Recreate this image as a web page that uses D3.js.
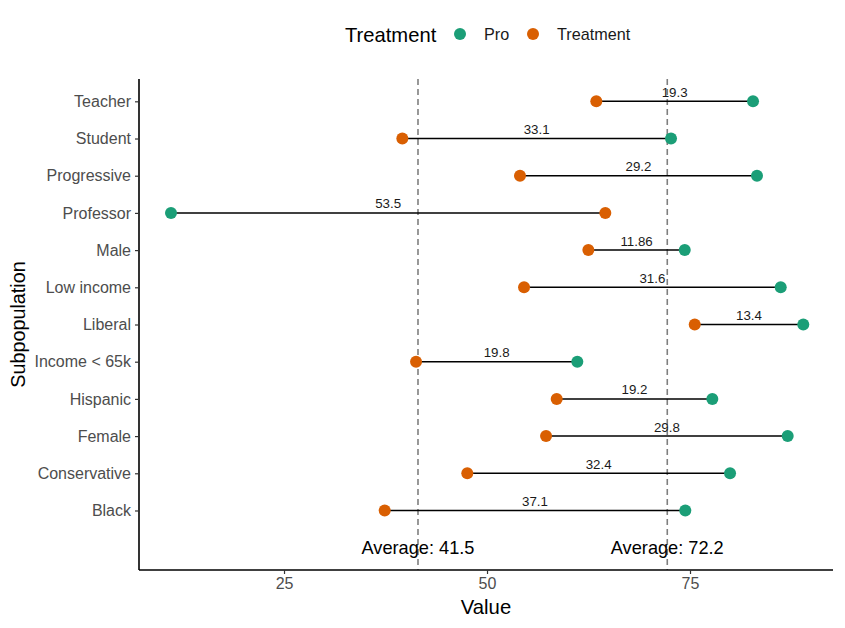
<!DOCTYPE html>
<html><head><meta charset="utf-8">
<script src="https://cdn.jsdelivr.net/npm/d3@7"></script>
<style>body{margin:0;background:#fff;font-family:"Liberation Sans",Arial,sans-serif;}</style>
</head><body><svg id="c" width="845" height="628"></svg>
<script>
const categories = ["Teacher","Student","Progressive","Professor","Male","Low income","Liberal","Income < 65k","Hispanic","Female","Conservative","Black"];
const proValues = [82.76, 72.66, 83.25, 11.08, 74.35, 86.17, 88.95, 61.12, 77.75, 87.03, 79.93, 74.42];
const treatmentValues = [63.46, 39.57, 54.06, 64.57, 62.48, 54.56, 75.58, 41.26, 58.58, 57.27, 47.57, 37.4];
const diffLabels = ["19.3","33.1","29.2","53.5","11.86","31.6","13.4","19.8","19.2","29.8","32.4","37.1"];
const averages = [41.5, 72.2];
const xTicks = [25, 50, 75];
const seriesNames = ["Pro","Treatment"];
const colors = ["#1B9E77","#D95F02"];

const svg = d3.select("#c");
const L = 139, R = 833, T = 79, B = 570;
const x = d3.scaleLinear().domain([7.14, 92.61]).range([L, R]);
const yDomain = categories.concat(["__avg"]);
const y = d3.scalePoint().domain(yDomain).range([T, B]).padding(0.6);

// average lines
svg.selectAll("line.avg").data(averages).enter().append("line")
  .attr("x1", d => x(d)).attr("x2", d => x(d)).attr("y1", T).attr("y2", B)
  .attr("stroke", "#7f7f7f").attr("stroke-width", 1.6).attr("stroke-dasharray", "6,4");

// segments
svg.selectAll("line.seg").data(categories).enter().append("line")
  .attr("x1", (d,i) => x(treatmentValues[i])).attr("x2", (d,i) => x(proValues[i]))
  .attr("y1", d => y(d)).attr("y2", d => y(d))
  .attr("stroke", "#000").attr("stroke-width", 1.5);

// diff labels
svg.selectAll("text.diff").data(categories).enter().append("text")
  .attr("x", (d,i) => (x(treatmentValues[i]) + x(proValues[i])) / 2)
  .attr("y", d => y(d) - 4.5)
  .attr("text-anchor", "middle").attr("font-size", 13.3).attr("fill", "#1a1a1a")
  .text((d,i) => diffLabels[i]);

// points
[proValues, treatmentValues].forEach((vals, s) => {
  svg.selectAll("circle.s" + s).data(categories).enter().append("circle")
    .attr("cx", (d,i) => x(vals[i])).attr("cy", d => y(d)).attr("r", 6)
    .attr("fill", colors[s]);
});

// average labels
svg.selectAll("text.avgl").data(averages).enter().append("text")
  .attr("x", d => x(d)).attr("y", y("__avg") + 6.5)
  .attr("text-anchor", "middle").attr("font-size", 18.2).attr("fill", "#000")
  .text(d => "Average: " + d.toFixed(1));

// axes
const xa = svg.append("g").attr("transform", `translate(0,${B})`)
  .call(d3.axisBottom(x).tickValues(xTicks).tickSize(4).tickPadding(4).tickSizeOuter(0));
const ya = svg.append("g").attr("transform", `translate(${L},0)`)
  .call(d3.axisLeft(y).tickValues(categories).tickSize(4).tickPadding(4).tickSizeOuter(0));
[xa, ya].forEach(g => {
  g.select(".domain").attr("stroke", "#000").attr("stroke-width", 1.6);
  g.selectAll(".tick line").attr("stroke", "#333").attr("stroke-width", 1.2);
  g.selectAll(".tick text").attr("fill", "#4d4d4d").attr("font-size", 16)
    .attr("font-family", "Liberation Sans, Arial, sans-serif");
});
ya.select(".domain").attr("d", `M0,${T}V${B}`);
xa.select(".domain").attr("d", `M${L},0H${R}`);

// axis titles
svg.append("text").attr("x", (L + R) / 2).attr("y", 614).attr("text-anchor", "middle")
  .attr("font-size", 20.3).text("Value");
svg.append("text").attr("transform", `translate(25,${(T + B) / 2}) rotate(-90)`)
  .attr("text-anchor", "middle").attr("font-size", 19.8).text("Subpopulation");

// legend
const lg = svg.append("g");
lg.append("text").attr("x", 345).attr("y", 41.5).attr("font-size", 20.2).text("Treatment");
const legX = [460, 533];
seriesNames.forEach((n, i) => {
  lg.append("circle").attr("cx", legX[i]).attr("cy", 34).attr("r", 6).attr("fill", colors[i]);
  lg.append("text").attr("x", legX[i] + 24).attr("y", 39.8).attr("font-size", 16.2)
    .attr("fill", "#1a1a1a").text(n);
});
</script></body></html>
